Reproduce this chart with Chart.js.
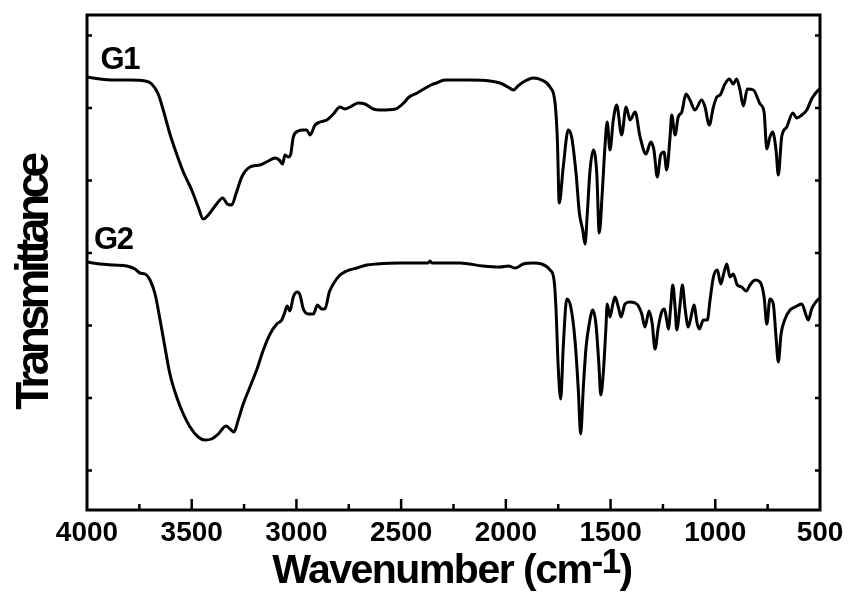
<!DOCTYPE html>
<html><head><meta charset="utf-8">
<script src="https://cdn.jsdelivr.net/npm/chart.js@4"></script>
<style>html,body{margin:0;padding:0;background:#fff}#wrap{width:851px;height:597px}</style>
</head><body><div id="wrap"><canvas id="c" width="851" height="597"></canvas></div>
<script>
// ---- Data (wavenumber in cm-1, transmittance in arbitrary units, curves offset) ----
const wavenumberG1 = [4000,3938,3874,3795,3723,3691,3660,3636,3604,3572,3540,3500,3469,3445,3421,3381,3352,3330,3309,3289,3261,3222,3174,3134,3102,3082,3066,3055,3039,3027,3015,2991,2967,2951,2935,2911,2887,2855,2824,2792,2768,2744,2705,2673,2633,2601,2527,2488,2462,2423,2384,2357,2332,2292,2171,2076,2028,1990,1964,1942,1917,1869,1829,1789,1765,1754,1745,1726,1702,1686,1665,1649,1633,1622,1611,1598,1582,1566,1554,1539,1527,1516,1503,1487,1471,1447,1426,1407,1383,1359,1331,1308,1293,1277,1261,1245,1232,1216,1208,1192,1177,1160,1140,1121,1097,1065,1049,1029,1009,993,977,954,933,914,898,882,866,847,818,786,767,754,739,726,710,699,683,659,630,611,587,563,540,524,508,500];
const transmittanceG1 = [433,431,430,430,429,426,416,400,376,356,338,320,303,291,295,306,312,306,305,316,333,343,345,349,352,350,346,355,353,356,373,379,380,380,375,385,388,390,396,403,401,403,407,406,401,400,401,407,413,417,422,425,427,430,430,429,427,423,420,424,428,432,430,423,407,370,307,343,380,373,337,297,280,266,297,340,360,337,277,320,363,388,360,390,405,375,403,390,398,373,356,368,360,333,355,358,340,373,395,375,393,398,416,410,400,410,403,385,403,413,415,426,431,426,431,420,404,421,420,406,398,361,373,378,360,335,373,383,397,392,395,400,411,416,420,421];
const wavenumberG2 = [4000,3938,3874,3810,3771,3747,3723,3699,3675,3651,3628,3604,3572,3540,3508,3469,3437,3405,3373,3336,3317,3298,3278,3254,3222,3190,3158,3126,3094,3070,3055,3044,3031,3015,2996,2983,2967,2943,2919,2900,2879,2864,2843,2824,2792,2760,2712,2664,2617,2505,2372,2362,2353,2219,2109,2028,1988,1956,1917,1869,1829,1789,1770,1761,1750,1738,1726,1709,1690,1670,1654,1643,1630,1617,1602,1585,1570,1555,1547,1535,1522,1516,1503,1490,1479,1463,1450,1431,1407,1375,1351,1336,1316,1301,1288,1272,1256,1243,1232,1224,1213,1203,1192,1184,1168,1157,1145,1129,1113,1102,1086,1076,1057,1038,1025,1009,990,974,958,945,930,914,895,874,853,831,810,786,767,754,739,723,710,699,686,667,643,619,587,567,556,540,516,500];
const transmittanceG2 = [248,246,245,244,241,237,236,230,216,190,163,136,113,96,83,73,70,71,76,84,81,78,90,106,123,140,160,176,186,190,198,204,199,213,218,215,201,196,196,205,201,201,218,226,235,239,242,245,246,247,247,249,247,247,244,243,244,242,246,247,246,240,230,203,143,111,163,211,203,170,120,76,123,163,186,200,186,143,115,136,183,206,193,205,213,203,193,206,208,206,196,183,199,186,161,183,198,201,190,181,203,225,203,180,206,225,203,183,196,205,186,181,190,190,210,233,240,226,238,246,233,236,225,223,219,226,230,228,213,186,211,206,173,148,176,191,200,203,206,195,190,201,209,212];

const seriesNames = ['G1', 'G2'];
const xTickValues = [4000,3750,3500,3250,3000,2750,2500,2250,2000,1750,1500,1250,1000,750,500];
const yTickValues = [39.5,112,184.5,257,329.5,402,474.5];
const xTitleMain = 'Wavenumber (cm';
const xTitleSup = '-1';
const xTitleEnd = ')';
const yTitle = 'Transmittance';

const FONT = '"Liberation Sans", Arial, Helvetica, sans-serif';

function toPoints(xs, ys) { return xs.map((x, i) => ({ x: x, y: ys[i] })); }

const framePlugin = {
  id: 'frame',
  afterDraw(chart) {
    const { ctx, chartArea: a, scales: { x, y } } = chart;
    ctx.save();
    ctx.strokeStyle = '#000';
    ctx.lineWidth = 3;
    ctx.strokeRect(a.left, a.top, a.right - a.left, a.bottom - a.top);
    ctx.lineWidth = 2.5;
    x.ticks.forEach(t => {
      if (t.value === x.min || t.value === x.max) return;
      const px = x.getPixelForValue(t.value);
      const len = (t.value % 500 === 0) ? 11 : 6;
      ctx.beginPath(); ctx.moveTo(px, a.bottom); ctx.lineTo(px, a.bottom - len); ctx.stroke();
    });
    y.ticks.forEach(t => {
      const py = y.getPixelForValue(t.value);
      ctx.beginPath();
      ctx.moveTo(a.left, py); ctx.lineTo(a.left + 5, py);
      ctx.moveTo(a.right, py); ctx.lineTo(a.right - 5, py);
      ctx.stroke();
    });
    ctx.fillStyle = '#000';
    // series labels
    ctx.font = 'bold 31px ' + FONT;
    ctx.textAlign = 'left'; ctx.textBaseline = 'alphabetic';
    ctx.letterSpacing = '-1.5px';
    ctx.fillText(seriesNames[0], x.getPixelForValue(3935), y.getPixelForValue(441));
    ctx.fillText(seriesNames[1], x.getPixelForValue(3966), y.getPixelForValue(261));
    // y title
    ctx.save();
    ctx.font = 'bold 46px ' + FONT;
    ctx.letterSpacing = '-4.5px';
    ctx.translate(48, 283);
    ctx.rotate(-Math.PI / 2);
    ctx.textAlign = 'center';
    ctx.fillText(yTitle, 0, 0);
    ctx.restore();
    // x title with superscript
    ctx.letterSpacing = '-1.5px';
    const mainFont = 'bold 41px ' + FONT, supFont = 'bold 35px ' + FONT;
    ctx.font = mainFont; const w1 = ctx.measureText(xTitleMain).width;
    const w3 = ctx.measureText(xTitleEnd).width;
    ctx.font = supFont; const w2 = ctx.measureText(xTitleSup).width;
    const total = w1 + w2 + w3;
    let sx = 452 - total / 2;
    const base = 583;
    ctx.textAlign = 'left';
    ctx.font = mainFont; ctx.fillText(xTitleMain, sx, base); sx += w1;
    ctx.font = supFont; ctx.fillText(xTitleSup, sx, base - 10); sx += w2;
    ctx.font = mainFont; ctx.fillText(xTitleEnd, sx, base);
    ctx.restore();
  }
};

const lineStyle = { showLine: true, borderColor: '#000', borderWidth: 3, pointRadius: 0, fill: false, cubicInterpolationMode: 'monotone' };

new Chart(document.getElementById('c'), {
  type: 'scatter',
  data: {
    datasets: [
      Object.assign({ label: seriesNames[0], data: toPoints(wavenumberG1, transmittanceG1) }, lineStyle),
      Object.assign({ label: seriesNames[1], data: toPoints(wavenumberG2, transmittanceG2) }, lineStyle)
    ]
  },
  options: {
    responsive: false, animation: false, devicePixelRatio: 1,
    layout: { padding: { top: 15, right: 31, left: 0, bottom: 0 } },
    plugins: { legend: { display: false }, tooltip: { enabled: false } },
    scales: {
      x: {
        type: 'linear', reverse: true, min: 500, max: 4000,
        afterBuildTicks: s => { s.ticks = xTickValues.map(v => ({ value: v })); },
        afterFit: s => { s.height = 87; },
        grid: { display: false, drawTicks: false },
        border: { display: false },
        ticks: { padding: 6, color: '#000', autoSkip: false, maxRotation: 0,
          font: { family: FONT, size: 28, weight: 'bold' },
          callback: v => (v % 500 === 0 ? String(v) : '') }
      },
      y: {
        type: 'linear', min: 0, max: 495,
        afterBuildTicks: s => { s.ticks = yTickValues.map(v => ({ value: v })); },
        afterFit: s => { s.width = 87; },
        grid: { display: false, drawTicks: false },
        border: { display: false },
        ticks: { display: false }
      }
    }
  },
  plugins: [framePlugin]
});
</script></body></html>
